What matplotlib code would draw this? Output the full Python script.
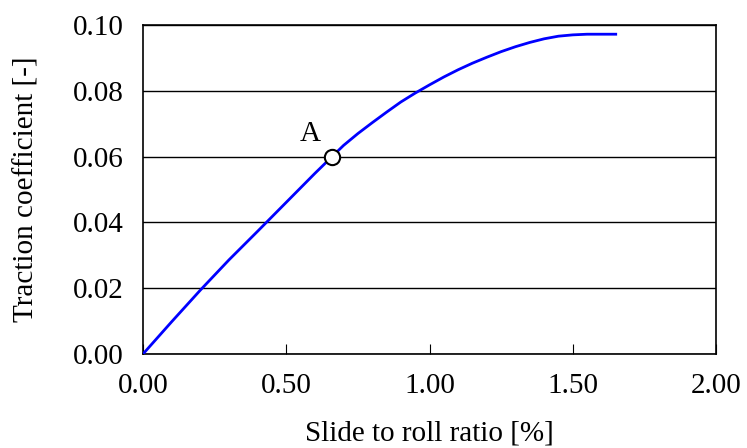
import matplotlib.pyplot as plt
import numpy as np

# slide to roll ratio [%] vs traction coefficient [-]
slip = [0.0, 0.1, 0.2, 0.3, 0.4, 0.5, 0.6, 0.7, 0.75, 0.8, 0.85, 0.9, 0.95, 1.0,
        1.05, 1.1, 1.15, 1.2, 1.25, 1.3, 1.35, 1.4, 1.45, 1.5, 1.55, 1.6, 1.65]
traction = [0.0, 0.0098, 0.0194, 0.0286, 0.0373, 0.0461, 0.0549, 0.0634, 0.0670,
            0.0703, 0.0735, 0.0766, 0.0793, 0.0818, 0.0842, 0.0864, 0.0884,
            0.0902, 0.0919, 0.0934, 0.0947, 0.0958, 0.0966, 0.0970,
            0.0972, 0.0972, 0.0972]

point_x = [0.66]
point_y = [0.06]
point_label = 'A'

plt.rcParams['font.family'] = ['Liberation Serif', 'DejaVu Serif']
plt.rcParams['font.size'] = 21

fig = plt.figure(figsize=(7.47, 4.48), dpi=100)
ax = fig.add_axes([143/747, 1-354/448, (716-143)/747, (354-25)/448])

ax.plot(slip, traction, color='#0000ff', lw=2, zorder=3)
ax.plot(point_x, point_y, 'o', ms=11, mfc='white', mec='black', mew=1.5, zorder=4)
ax.text(point_x[0] - 0.04, point_y[0] + 0.003, point_label, ha='right', va='bottom')

ax.set_xlim(0, 2.0)
ax.set_ylim(0, 0.1)
ax.set_xticks(np.arange(0, 2.01, 0.5))
ax.set_yticks(np.arange(0, 0.101, 0.02))
ax.set_xticklabels(['%.2f' % v for v in np.arange(0, 2.01, 0.5)])
ax.set_yticklabels(['%.2f' % v for v in np.arange(0, 0.101, 0.02)])
ax.yaxis.grid(True, color='black', lw=1)
ax.set_axisbelow(True)
ax.tick_params(axis='x', direction='in', length=7, pad=14)
ax.tick_params(axis='y', length=0, pad=14)
for s in ax.spines.values():
    s.set_color('black')
    s.set_linewidth(1.2)

ax.set_xlabel('Slide to roll ratio [%]', labelpad=15)
ax.set_ylabel('Traction coefficient [-]', labelpad=24)

fig.savefig('out.png', dpi=100)
